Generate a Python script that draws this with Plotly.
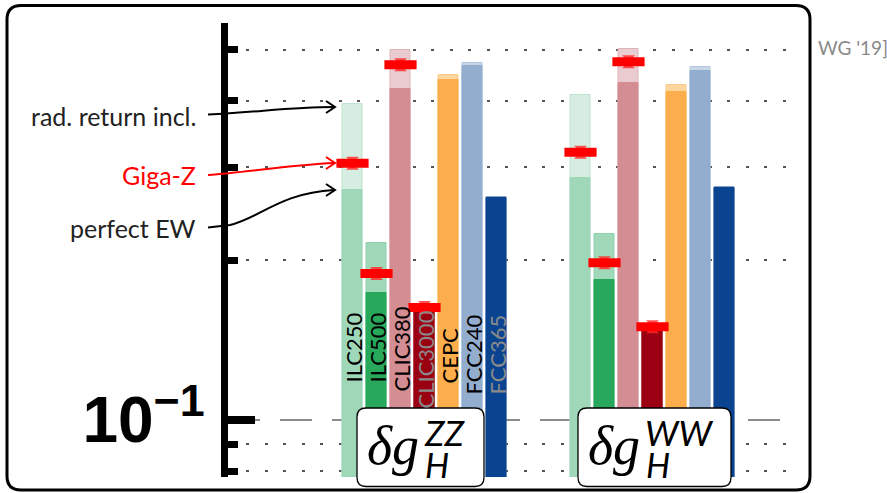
import math
import plotly.graph_objects as go

# ---------------- data ----------------
categories = ["ILC250", "ILC500", "CLIC380", "CLIC3000", "CEPC", "FCC240", "FCC365"]
groups = ["ZZ", "WW"]

zz_perfect_ew = [0.272, 0.174, 0.421, 0.160, 0.438, 0.465, 0.262]
zz_rad_return = [0.394, 0.216, 0.499, 0.160, 0.448, 0.472, 0.264]
zz_giga_z = [0.305, 0.189, 0.468, 0.163, None, None, None]

ww_perfect_ew = [0.286, 0.184, 0.432, 0.147, 0.416, 0.455, 0.274]
ww_rad_return = [0.410, 0.224, 0.501, 0.147, 0.429, 0.463, 0.275]
ww_giga_z = [0.320, 0.198, 0.474, 0.150, None, None, None]

minor_ticks = [0.08, 0.09, 0.2, 0.3, 0.4, 0.5]
major_ticks = [0.1]
major_tick_text = ["10<sup>\u22121</sup>"]

# ---------------- styling ----------------
W, H = 887, 493
FONT = "Lato"
dark_colors = ["#9fd8b8", "#27a85b", "#d38d93", "#9a0012", "#fbae4b", "#93adcf", "#0a4491"]
light_colors = ["#d5eee1", "#a0d9b9", "#eacbcf", "#9a0012", "#fdd69f", "#c8d5e8", "#9fb3d3"]
light_edges = ["#bfe3cf", "#8fd0ac", "#dcb5ba", "#9a0012", "#fcc98a", "#b5c6de", "#8aa3c8"]
label_colors = ["black", "black", "black", "#8a8a8a", "black", "black", "#8a8a8a"]
label_center_px = [348, 348, 349, 360, 356, 355, 355]

slot = 24.0
x0_px = 352.5
group_start = {"ZZ": 0.0, "WW": 9.5}
dom_px = (227.5, 795.0)
y_top_px, y_bot_px = 23.0, 477.0
y_ref_px = 420.0
px_per_decade = 530.0


def px(x):
    return x / W


def py(y):
    return 1 - y / H


xs = []
for g in groups:
    xs += [group_start[g] + i for i in range(len(categories))]

perfect = zz_perfect_ew + ww_perfect_ew
radret = zz_rad_return + ww_rad_return
gigaz = zz_giga_z + ww_giga_z

fig = go.Figure()
fig.add_trace(go.Bar(
    x=xs, y=radret, width=0.82,
    marker=dict(color=light_colors * 2, line=dict(color=light_edges * 2, width=1)),
    hoverinfo="skip", name="rad. return incl."))
fig.add_trace(go.Bar(
    x=xs, y=perfect, width=0.82,
    marker=dict(color=dark_colors * 2, line=dict(color=dark_colors * 2, width=1)),
    name="perfect EW"))
fig.add_trace(go.Scatter(
    x=xs, y=gigaz, mode="markers",
    marker=dict(symbol="hourglass", size=13, color="rgba(255,40,40,0.8)", line=dict(width=0)),
    hoverinfo="skip", name="Giga-Z"))
fig.add_trace(go.Scatter(
    x=xs, y=gigaz, mode="markers",
    marker=dict(symbol="line-ew", size=23, line=dict(color="#ff0000", width=9)),
    name="Giga-Z"))

# axes
xr = [(dom_px[0] - x0_px) / slot, (dom_px[1] - x0_px) / slot]
log_ref = math.log10(major_ticks[0])
yr = [log_ref - (y_bot_px - y_ref_px) / px_per_decade,
      log_ref + (y_ref_px - y_top_px) / px_per_decade]

fig.update_layout(
    width=W, height=H, margin=dict(l=0, r=0, t=0, b=0),
    paper_bgcolor="white", plot_bgcolor="white",
    showlegend=False, barmode="overlay", bargap=0,
    xaxis=dict(domain=[px(dom_px[0]), px(dom_px[1])], range=xr, visible=False,
               showgrid=False, zeroline=False),
    yaxis=dict(type="log", domain=[py(y_bot_px), py(y_top_px)], range=yr,
               showline=True, linewidth=7, linecolor="black",
               tickvals=major_ticks, ticktext=major_tick_text,
               ticks="inside", ticklen=27, tickwidth=8, tickcolor="black",
               tickfont=dict(family="Liberation Sans", size=64, color="black", weight="bold"),
               ticklabelstandoff=3,
               showgrid=True, gridcolor="#8c8c8c", gridwidth=1.5, griddash="32px,20px",
               zeroline=False,
               minor=dict(tickvals=minor_ticks, ticks="inside", ticklen=10, tickwidth=7,
                          tickcolor="black", showgrid=True, gridcolor="#555555",
                          gridwidth=1.5, griddash="3px,15.5px")),
)

shapes = []
annotations = []


def rounded_rect(x0, y0, x1, y1, r):
    pts = [
        f"M {px(x0 + r)},{py(y0)}",
        f"L {px(x1 - r)},{py(y0)}",
        f"Q {px(x1)},{py(y0)} {px(x1)},{py(y0 + r)}",
        f"L {px(x1)},{py(y1 - r)}",
        f"Q {px(x1)},{py(y1)} {px(x1 - r)},{py(y1)}",
        f"L {px(x0 + r)},{py(y1)}",
        f"Q {px(x0)},{py(y1)} {px(x0)},{py(y1 - r)}",
        f"L {px(x0)},{py(y0 + r)}",
        f"Q {px(x0)},{py(y0)} {px(x0 + r)},{py(y0)} Z",
    ]
    return " ".join(pts)


def path_px(cmds):
    out = []
    for c in cmds:
        op, coords = c[0], c[1:]
        s = op
        for i in range(0, len(coords), 2):
            s += f" {px(coords[i])},{py(coords[i + 1])}"
        out.append(s)
    return " ".join(out)


# outer frame
shapes.append(dict(type="path", xref="paper", yref="paper", layer="above",
                   path=rounded_rect(7, 5.5, 810, 490, 14),
                   line=dict(color="black", width=3), fillcolor="rgba(0,0,0,0)"))

# label boxes
box_px = {"ZZ": (357, 408, 484, 486.5), "WW": (578, 408, 731, 486.5)}
for g in groups:
    bx0, by0, bx1, by1 = box_px[g]
    shapes.append(dict(type="path", xref="paper", yref="paper", layer="above",
                       path=rounded_rect(bx0, by0, bx1, by1, 9),
                       line=dict(color="black", width=1.3), fillcolor="white"))
    annotations.append(dict(xref="paper", yref="paper", x=px(bx0 + 8), y=py(446),
                            xanchor="left", yanchor="middle", showarrow=False,
                            text="<i>\u03b4g</i>",
                            font=dict(family="Liberation Serif", size=54, color="black")))
    annotations.append(dict(xref="paper", yref="paper", x=px(bx0 + 65), y=py(432),
                            xanchor="left", yanchor="middle", showarrow=False,
                            text=f"<i>{g}</i>",
                            font=dict(family=FONT, size=35, color="black")))
    annotations.append(dict(xref="paper", yref="paper", x=px(bx0 + 66), y=py(464),
                            xanchor="left", yanchor="middle", showarrow=False,
                            text="<i>H</i>",
                            font=dict(family=FONT, size=34, color="black")))

# collider labels in ZZ bars
for i, name in enumerate(categories):
    yv = log_ref + (y_ref_px - label_center_px[i]) / px_per_decade
    annotations.append(dict(x=group_start["ZZ"] + i, y=yv, xref="x", yref="y",
                            text=name, textangle=-90, showarrow=False,
                            font=dict(family=FONT, size=22, color=label_colors[i])))

# left legend-like labels
left_labels = [("rad. return incl.", 116, "#222222"), ("Giga-Z", 175, "#ff0000"),
               ("perfect EW", 228, "#222222")]
for text, yy, col in left_labels:
    annotations.append(dict(xref="paper", yref="paper", x=px(198), y=py(yy),
                            xanchor="right", yanchor="middle", showarrow=False,
                            text=text, font=dict(family=FONT, size=25, color=col)))

# connector curves with open arrowheads
curves = [
    ([("M", 208, 114.5), ("C", 260, 112, 290, 107, 334, 107)], "black"),
    ([("M", 208, 175), ("C", 250, 172, 290, 165, 334, 163)], "#ff0000"),
    ([("M", 208, 227.5), ("L", 230, 225), ("C", 260, 218, 280, 193, 334, 190)], "black"),
]
for segs, col in curves:
    cmds = [(s[0],) + tuple(s[1:]) for s in segs]
    shapes.append(dict(type="path", xref="paper", yref="paper", layer="above",
                       path=path_px(cmds), line=dict(color=col, width=2)))
    ex, ey = segs[-1][-2], segs[-1][-1]
    shapes.append(dict(type="path", xref="paper", yref="paper", layer="above",
                       path=path_px([("M", ex - 8, ey - 6), ("L", ex + 1, ey), ("L", ex - 8, ey + 6)]),
                       line=dict(color=col, width=2)))

annotations.append(dict(xref="paper", yref="paper", x=px(816), y=py(47),
                        xanchor="left", yanchor="middle", showarrow=False,
                        text="WG '19]", font=dict(family=FONT, size=19, color="#8a8a8a")))

fig.update_layout(shapes=shapes, annotations=annotations)
fig.write_html("out.html")
